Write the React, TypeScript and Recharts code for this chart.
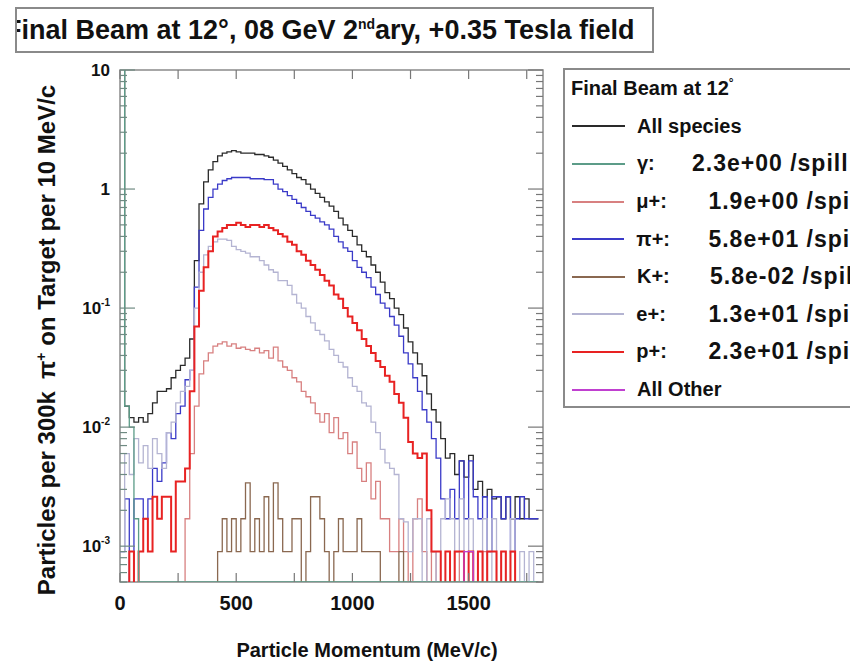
import { LineChart, Line, XAxis, YAxis, ReferenceArea, Label } from "recharts";

// bin edges in MeV/c (20 MeV/c bins), last edge closes the final step
const momentum = [
  0, 20, 40, 60, 80, 100, 120, 140, 160, 180, 200, 220, 240, 260, 280, 300, 320, 340, 360, 380,
  400, 420, 440, 460, 480, 500, 520, 540, 560, 580, 600, 620, 640, 660, 680, 700, 720, 740, 760, 780,
  800, 820, 840, 860, 880, 900, 920, 940, 960, 980, 1000, 1020, 1040, 1060, 1080, 1100, 1120, 1140, 1160, 1180,
  1200, 1220, 1240, 1260, 1280, 1300, 1320, 1340, 1360, 1380, 1400, 1420, 1440, 1460, 1480, 1500, 1520, 1540, 1560, 1580,
  1600, 1620, 1640, 1660, 1680, 1700, 1720, 1740, 1760, 1780, 1800,
];

const E = 1e-4; // empty bin (below the axis floor)
const F = 5e-4; // axis floor

const allSpecies = [
  30, 0.015, 0.012, 0.011, 0.012, 0.011, 0.013, 0.016, 0.02, 0.02,
  0.021, 0.026, 0.03, 0.033, 0.038, 0.055, 0.25, 0.75, 1.15, 1.45,
  1.7, 1.9, 2.0, 2.05, 2.1, 2.05, 2.0, 2.0, 2.0, 1.95,
  1.95, 1.9, 1.85, 1.75, 1.65, 1.55, 1.45, 1.35, 1.25, 1.2,
  1.1, 1.0, 0.92, 0.85, 0.78, 0.72, 0.65, 0.57, 0.5, 0.45,
  0.4, 0.34, 0.3, 0.27, 0.23, 0.2, 0.165, 0.135, 0.12, 0.1,
  0.088, 0.068, 0.052, 0.042, 0.034, 0.027, 0.019, 0.014, 0.011, 0.008,
  0.0055, 0.006, 0.004, 0.0052, 0.0038, 0.0058, 0.003, 0.0035, 0.0026, 0.003,
  0.0025, 0.0026, 0.0017, 0.0026, 0.0017, 0.0026, 0.0017, 0.0025, 0.0017, 0.0017,
];

const gamma = [
  30, 0.015, 0.01, 0.0017, F, F, F, F, F, F,
  F, F, F, F, F, F, F, F, F, F,
  F, F, F, F, F, F, F, F, F, F,
  F, F, F, F, F, F, F, F, F, F,
  F, F, F, F, F, F, F, F, F, F,
  F, F, F, F, F, F, F, F, F, F,
  F, F, F, F, F, F, F, F, F, F,
  F, F, F, F, F, F, F, F, F, F,
  F, F, F, F, F, F, F, F, F, F,
];

const muon = [
  E, E, E, E, E, E, E, E, E, E,
  E, E, E, E, 0.0017, 0.006, 0.015, 0.028, 0.036, 0.042,
  0.048, 0.05, 0.052, 0.048, 0.05, 0.046, 0.047, 0.045, 0.044, 0.046,
  0.042, 0.044, 0.038, 0.047, 0.036, 0.032, 0.03, 0.026, 0.024, 0.02,
  0.018, 0.016, 0.013, 0.011, 0.013, 0.009, 0.012, 0.008, 0.009, 0.006,
  0.0075, 0.0045, 0.0035, 0.005, 0.0025, 0.0035, 0.0017, 0.0017, 0.0009, 0.0009,
  0.0017, 0.0009, E, 0.0017, 0.0025, 0.0009, E, 0.0009, E, E,
  E, E, 0.0009, E, E, E, E, E, 0.0009, E,
  E, E, E, E, E, E, E, E, E, E,
];

const pion = [
  0.0009, 0.0025, E, 0.0025, 0.0025, 0.0017, 0.0025, 0.0045, 0.0035, 0.005,
  0.009, 0.008, 0.013, 0.015, 0.025, 0.03, 0.15, 0.45, 0.68, 0.85,
  1.0, 1.1, 1.18, 1.22, 1.25, 1.25, 1.25, 1.25, 1.22, 1.22,
  1.22, 1.2, 1.2, 1.1, 1.0, 0.95, 0.88, 0.82, 0.76, 0.7,
  0.65, 0.6, 0.57, 0.53, 0.5, 0.46, 0.4, 0.36, 0.32, 0.3,
  0.25, 0.22, 0.2, 0.18, 0.15, 0.13, 0.11, 0.1, 0.085, 0.072,
  0.058, 0.042, 0.034, 0.026, 0.02, 0.014, 0.011, 0.008, 0.0055, 0.0025,
  0.0017, 0.003, 0.0017, 0.0052, 0.0017, 0.0052, 0.0026, 0.0017, 0.0026, 0.0009,
  0.0026, 0.0026, 0.0017, 0.0026, 0.0009, 0.0017, 0.0026, 0.0017, 0.0017, 0.0017,
];

const kaon = [
  E, E, E, E, E, E, E, E, E, E,
  E, E, E, E, E, E, E, E, E, E,
  E, 0.0009, 0.0017, 0.0009, 0.0017, 0.0009, 0.0017, 0.0034, 0.0009, 0.0017,
  0.0009, 0.0026, 0.0009, 0.0034, 0.0017, 0.0009, 0.0009, 0.0017, 0.0017, E,
  0.0009, 0.0026, 0.0026, 0.0017, 0.0009, E, 0.0009, 0.0017, 0.0009, 0.0009,
  0.0009, 0.0017, 0.0009, 0.0009, 0.0009, 0.0009, E, E, E, E,
  0.0009, E, E, E, E, E, E, E, E, E,
  E, E, E, E, E, E, E, E, E, E,
  E, E, E, E, E, E, E, E, E, E,
];

const positron = [
  0.0009, 0.006, 0.004, 0.008, 0.005, 0.007, 0.0045, 0.008, 0.006, 0.0045,
  0.009, 0.011, 0.016, 0.02, 0.022, 0.03, 0.1, 0.2, 0.28, 0.33,
  0.36, 0.38, 0.38, 0.37, 0.33, 0.31, 0.3, 0.29, 0.27, 0.27,
  0.25, 0.23, 0.21, 0.2, 0.17, 0.17, 0.155, 0.13, 0.11, 0.1,
  0.085, 0.075, 0.065, 0.06, 0.053, 0.045, 0.04, 0.035, 0.032, 0.026,
  0.022, 0.02, 0.016, 0.015, 0.011, 0.009, 0.0065, 0.005, 0.0045, 0.004,
  0.0017, 0.0016, 0.0009, 0.0017, 0.0017, E, 0.0017, 0.0009, E, 0.0017,
  0.0025, 0.0017, 0.0009, 0.0025, 0.0009, 0.0017, E, 0.0009, 0.0017, E,
  0.0017, E, 0.0009, E, 0.0017, E, 0.0009, E, 0.0009, E,
];

const proton = [
  E, E, 0.0009, E, 0.0009, 0.0017, 0.0009, 0.0026, 0.0017, 0.0026,
  0.0026, 0.0009, 0.0035, 0.0035, 0.0045, 0.02, 0.07, 0.14, 0.22, 0.3,
  0.4, 0.44, 0.47, 0.5, 0.5, 0.52, 0.5, 0.48, 0.5, 0.5,
  0.48, 0.5, 0.47, 0.45, 0.42, 0.4, 0.36, 0.34, 0.3, 0.28,
  0.25, 0.23, 0.21, 0.19, 0.17, 0.155, 0.13, 0.12, 0.1, 0.085,
  0.075, 0.065, 0.055, 0.048, 0.042, 0.036, 0.032, 0.027, 0.024, 0.019,
  0.016, 0.012, 0.0075, 0.006, 0.0055, 0.006, 0.002, 0.0009, 0.0009, E,
  0.0009, E, 0.0009, 0.0009, E, 0.0009, E, 0.0009, E, 0.0009,
  0.0009, E, 0.0009, E, 0.0009, E, E, E, E, E,
];

const allOther = [
  E, E, E, E, E, E, E, E, E, E,
  E, E, E, E, E, E, E, E, E, E,
  E, E, E, E, E, E, E, E, E, E,
  E, E, E, E, E, E, E, E, E, E,
  E, E, E, E, E, E, E, E, E, E,
  E, E, E, E, E, E, E, E, E, E,
  E, E, E, E, E, E, E, E, E, E,
  E, E, E, E, 0.0009, 0.0009, E, E, E, E,
  E, E, E, E, E, E, E, E, E, E,
];

const seriesKeys = ["all", "gamma", "mu", "pi", "kplus", "eplus", "pplus", "other"];
const seriesLabels = ["All species", "γ:", "μ+:", "π+:", "K+:", "e+:", "p+:", "All Other"];
const seriesRates = ["", "2.3e+00 /spill", "1.9e+00 /spill", "5.8e+01 /spill", "5.8e-02 /spill", "1.3e+01 /spill", "2.3e+01 /spill", ""];
const seriesColors = ["#2a2a2a", "#5c9c88", "#d88080", "#3a3ac8", "#8a6850", "#b4b4d2", "#e82222", "#c040d0"];
const seriesValues = [allSpecies, gamma, muon, pion, kaon, positron, proton, allOther];

const xTicks = [0, 250, 500, 750, 1000, 1250, 1500, 1750];
const yTicks = [
  5e-4, 6e-4, 7e-4, 8e-4, 9e-4,
  1e-3, 2e-3, 3e-3, 4e-3, 5e-3, 6e-3, 7e-3, 8e-3, 9e-3,
  1e-2, 2e-2, 3e-2, 4e-2, 5e-2, 6e-2, 7e-2, 8e-2, 9e-2,
  0.1, 0.2, 0.3, 0.4, 0.5, 0.6, 0.7, 0.8, 0.9,
  1, 2, 3, 4, 5, 6, 7, 8, 9, 10,
];

const data = momentum.map((mom, i) => {
  const row: Record<string, number> = { mom };
  seriesKeys.forEach((k, s) => {
    const vals = seriesValues[s];
    row[k] = vals[Math.min(i, vals.length - 1)];
  });
  return row;
});

const FONT = "'Liberation Sans', Arial, Helvetica, sans-serif";
const PLOT_W = 423;
const PLOT_H = 512;

const YTick = ({ x, y, payload }: any) => {
  const v = payload.value;
  const lg = Math.log10(v);
  const exp = Math.round(lg);
  const major = Math.abs(lg - exp) < 1e-6;
  const len = major ? 15 : 7;
  return (
    <g>
      <line x1={x} x2={x + len} y1={y} y2={y} stroke="#6f8a82" strokeWidth={1.2} />
      <line x1={x + PLOT_W} x2={x + PLOT_W - len} y1={y} y2={y} stroke="#777" strokeWidth={1.2} />
      {major && (
        <text x={x - 10} y={y + 6} textAnchor="end" fontFamily={FONT} fontWeight="bold" fontSize={17} fill="#111">
          {exp === 1 ? "10" : exp === 0 ? "1" : (
            <>
              <tspan>10</tspan>
              <tspan dy={-8} fontSize={10}>{exp}</tspan>
            </>
          )}
        </text>
      )}
    </g>
  );
};

const XTick = ({ x, y, payload }: any) => {
  const v = payload.value;
  return (
    <g>
      <line x1={x} x2={x} y1={y} y2={y - 9} stroke="#777" strokeWidth={1.2} />
      <line x1={x} x2={x} y1={y - PLOT_H} y2={y - PLOT_H + 9} stroke="#777" strokeWidth={1.2} />
      {v % 500 === 0 && (
        <text x={x} y={y + 28} textAnchor="middle" fontFamily={FONT} fontWeight="bold" fontSize={20} fill="#111">
          {v}
        </text>
      )}
    </g>
  );
};

const YTitle = () => (
  <text x={55} y={340} transform="rotate(-90 55 340)" textAnchor="middle" fontFamily={FONT} fontWeight="bold" fontSize={24} fill="#111">
    <tspan>Particles per 300k</tspan>
    <tspan dx={12}>π</tspan>
    <tspan dy={-9} fontSize={14}>+</tspan>
    <tspan dy={9}> on Target per 10 MeV/c</tspan>
  </text>
);

const XTitle = () => (
  <text x={367} y={657} textAnchor="middle" fontFamily={FONT} fontWeight="bold" fontSize={20} fill="#111">
    Particle Momentum (MeV/c)
  </text>
);

export default function App() {
  return (
    <div style={{ position: "absolute", left: 0, top: 0, width: 850, height: 664, overflow: "hidden", background: "#fff" }}>
      <LineChart width={850} height={664} data={data} margin={{ top: 70, right: 307, bottom: 0, left: 0 }}>
        <ReferenceArea x1={0} x2={1820} y1={F} y2={10} fill="none" stroke="#8a8a8a" strokeWidth={1.5} ifOverflow="visible" />
        <XAxis
          dataKey="mom"
          type="number"
          domain={[0, 1820]}
          ticks={xTicks}
          interval={0}
          height={82}
          tickSize={0}
          tickMargin={0}
          axisLine={false}
          tickLine={false}
          tick={(props: any) => <XTick {...props} />}
        >
          <Label content={() => <XTitle />} />
        </XAxis>
        <YAxis
          type="number"
          scale="log"
          domain={[F, 10]}
          allowDataOverflow
          ticks={yTicks}
          interval={0}
          width={120}
          tickSize={0}
          tickMargin={0}
          axisLine={false}
          tickLine={false}
          tick={(props: any) => <YTick {...props} />}
        >
          <Label content={() => <YTitle />} />
        </YAxis>
        {[0, 2, 3, 4, 5, 6, 7, 1].map((s) => (
          <Line
            key={seriesKeys[s]}
            dataKey={seriesKeys[s]}
            type="stepAfter"
            stroke={seriesColors[s]}
            strokeWidth={s === 6 ? 2 : 1.3}
            dot={false}
            activeDot={false}
            isAnimationActive={false}
          />
        ))}
      </LineChart>

      <div
        style={{
          position: "absolute", left: 15, top: 7, width: 635, height: 42, border: "2px solid #8a8a8a",
          overflow: "hidden", whiteSpace: "nowrap", fontFamily: FONT, fontWeight: "bold", fontSize: 27,
          lineHeight: "42px", textIndent: -12, color: "#111", background: "#fff",
        }}
      >
        Final Beam at 12°, 08 GeV 2<sup style={{ fontSize: 14, lineHeight: 0 }}>nd</sup>ary, +0.35 Tesla field
      </div>

      <div
        style={{
          position: "absolute", left: 563, top: 68, width: 300, height: 336, border: "2px solid #8a8a8a",
          fontFamily: FONT, fontWeight: "bold", fontSize: 20, color: "#111", background: "#fff",
        }}
      >
        <div style={{ height: 37.6, lineHeight: "37.6px", paddingLeft: 6 }}>
          Final Beam at 12<span style={{ fontSize: 12, verticalAlign: "top", lineHeight: "26px" }}>°</span>
        </div>
        {seriesLabels.map((lab, s) => (
          <div key={lab} style={{ height: 37.6, display: "flex", alignItems: "center", whiteSpace: "nowrap" }}>
            <span style={{ display: "inline-block", width: 53, height: 2, background: seriesColors[s], marginLeft: 7, marginRight: 12 }} />
            <span style={{ display: "inline-block", width: seriesRates[s] ? (s === 1 ? 55 : 73) : "auto" }}>{lab}</span>
            <span style={{ fontSize: 23, letterSpacing: 1 }}>{seriesRates[s]}</span>
          </div>
        ))}
      </div>
    </div>
  );
}
